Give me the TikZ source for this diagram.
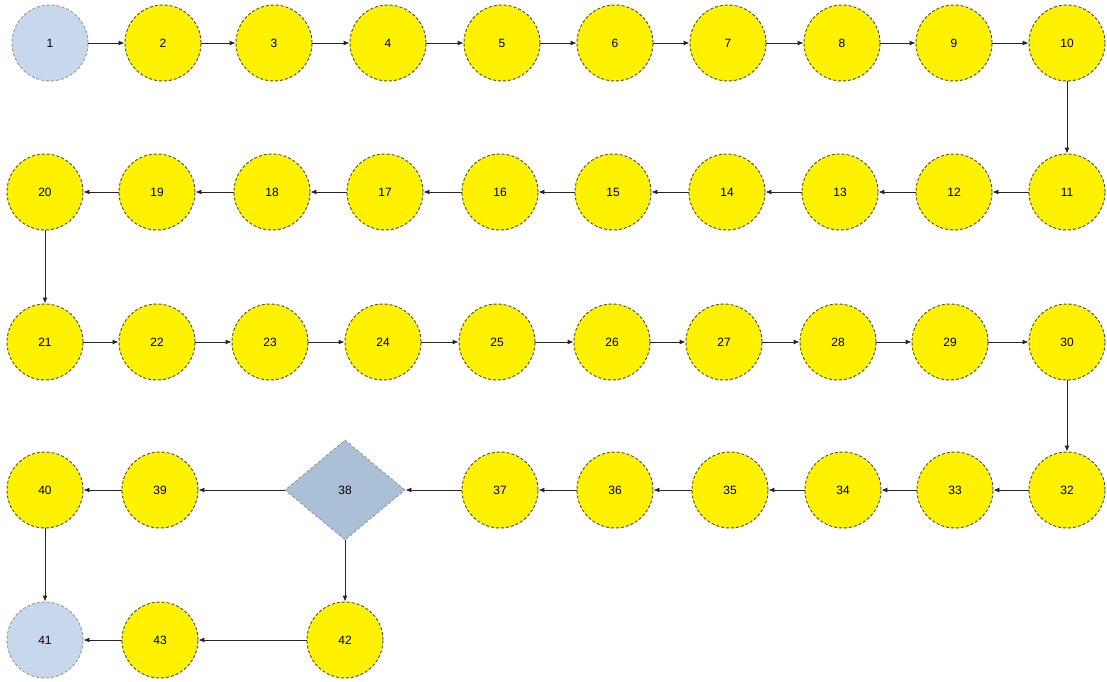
\documentclass[tikz,border=0pt]{standalone}
\usepackage{fontspec}
\setmainfont{Liberation Sans}
\usetikzlibrary{arrows.meta,shapes.geometric}
\definecolor{termblue}{RGB}{200,216,236}
\definecolor{decblue}{RGB}{170,192,214}
\tikzset{
  act/.style={circle,minimum size=76pt,inner sep=0pt,fill=yellow,draw=black!70,densely dashed,line width=0.9pt,font=\fontsize{12}{14}\selectfont},
  term/.style={act,fill=termblue,draw=gray!80},
  dec/.style={diamond,minimum width=120pt,minimum height=100pt,inner sep=0pt,fill=decblue,draw=gray!80,densely dashed,line width=0.9pt,font=\fontsize{12}{14}\selectfont},
  flow/.style={-{Latex[length=6pt,width=5pt]},line width=0.9pt,black!85}
}
\begin{document}
\begin{tikzpicture}[x=1pt,y=-1pt]
\useasboundingbox (0,0) rectangle (1107,681);
\fill[white] (0,0) rectangle (1107,681);
% row 1
\node[term] (n1) at (50,43) {1};
\node[act] (n2) at (163,43) {2};
\node[act] (n3) at (274,43) {3};
\node[act] (n4) at (388,43) {4};
\node[act] (n5) at (502,43) {5};
\node[act] (n6) at (615,43) {6};
\node[act] (n7) at (728,43) {7};
\node[act] (n8) at (842,43) {8};
\node[act] (n9) at (954,43) {9};
\node[act] (n10) at (1067,43) {10};
% row 2
\node[act] (n11) at (1067,192) {11};
\node[act] (n12) at (954,192) {12};
\node[act] (n13) at (840,192) {13};
\node[act] (n14) at (727,192) {14};
\node[act] (n15) at (613,192) {15};
\node[act] (n16) at (500,192) {16};
\node[act] (n17) at (385,192) {17};
\node[act] (n18) at (272,192) {18};
\node[act] (n19) at (157,192) {19};
\node[act] (n20) at (45,192) {20};
% row 3
\node[act] (n21) at (45,342) {21};
\node[act] (n22) at (157,342) {22};
\node[act] (n23) at (270,342) {23};
\node[act] (n24) at (383,342) {24};
\node[act] (n25) at (497,342) {25};
\node[act] (n26) at (612,342) {26};
\node[act] (n27) at (724,342) {27};
\node[act] (n28) at (838,342) {28};
\node[act] (n29) at (950,342) {29};
\node[act] (n30) at (1067,342) {30};
% row 4
\node[act] (n32) at (1067,490) {32};
\node[act] (n33) at (955,490) {33};
\node[act] (n34) at (843,490) {34};
\node[act] (n35) at (730,490) {35};
\node[act] (n36) at (615,490) {36};
\node[act] (n37) at (500,490) {37};
\node[dec] (n38) at (345,490) {38};
\node[act] (n39) at (160,490) {39};
\node[act] (n40) at (45,490) {40};
% row 5
\node[act] (n42) at (345,640) {42};
\node[act] (n43) at (160,640) {43};
\node[term] (n41) at (45,640) {41};
% connectors
\foreach \a/\b in {1/2,2/3,3/4,4/5,5/6,6/7,7/8,8/9,9/10,10/11,11/12,12/13,13/14,14/15,15/16,16/17,17/18,18/19,19/20,20/21,21/22,22/23,23/24,24/25,25/26,26/27,27/28,28/29,29/30,30/32,32/33,33/34,34/35,35/36,36/37,37/38,38/39,39/40,40/41,38/42,42/43,43/41}
  \draw[flow] (n\a) -- (n\b);
\end{tikzpicture}
\end{document}
